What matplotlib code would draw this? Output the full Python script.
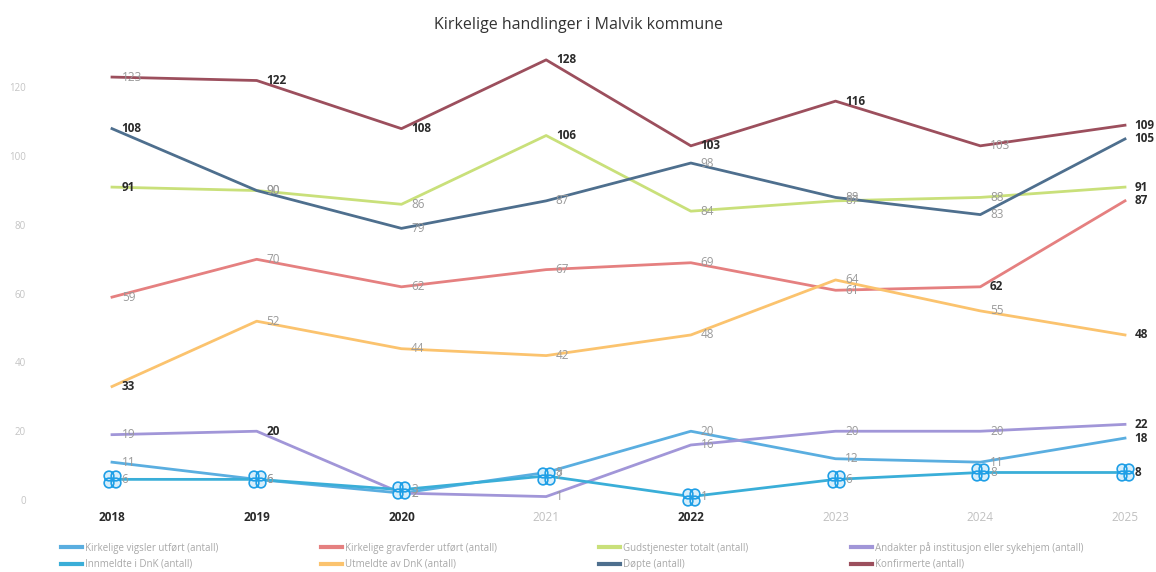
import matplotlib.pyplot as plt
from matplotlib.lines import Line2D
from matplotlib.path import Path

plt.rcParams['font.family'] = ['Open Sans', 'DejaVu Sans']

years = [2018, 2019, 2020, 2021, 2022, 2023, 2024, 2025]

vigsler = [11, 6, 2, 8, 20, 12, 11, 18]
gravferder = [59, 70, 62, 67, 69, 61, 62, 87]
gudstjenester = [91, 90, 86, 106, 84, 87, 88, 91]
andakter = [19, 20, 2, 1, 16, 20, 20, 22]
innmeldte = [6, 6, 3, 7, 1, 6, 8, 8]
utmeldte = [33, 52, 44, 42, 48, 64, 55, 48]
dopte = [108, 90, 79, 87, 98, 88, 83, 105]
konfirmerte = [123, 122, 108, 128, 103, 116, 103, 109]

series_names = [
    'Kirkelige vigsler utført (antall)',
    'Kirkelige gravferder utført (antall)',
    'Gudstjenester totalt (antall)',
    'Andakter på institusjon eller sykehjem (antall)',
    'Innmeldte i DnK (antall)',
    'Utmeldte av DnK (antall)',
    'Døpte (antall)',
    'Konfirmerte (antall)',
]
series_values = [vigsler, gravferder, gudstjenester, andakter,
                 innmeldte, utmeldte, dopte, konfirmerte]
colors = ['#5aaee0', '#e58080', '#c9e07a', '#a196d8',
          '#3aaed8', '#fbc36e', '#4e6f8e', '#9c4f5d']

# labels that look dark/bold in the scan: (series index, year)
bold_labels = {(7, 2019), (7, 2020), (7, 2021), (7, 2022), (7, 2023), (7, 2025),
               (6, 2018), (6, 2025), (2, 2018), (2, 2021), (2, 2025),
               (1, 2024), (1, 2025), (5, 2018), (5, 2025), (3, 2019), (3, 2025),
               (0, 2025), (4, 2025)}

# four small overlapping rings, like the marker in the scanned chart
unit = Path.unit_circle()
rings = [Path(unit.vertices * 0.55 + [dx, dy], unit.codes)
         for dx in (-0.4, 0.4) for dy in (-0.4, 0.4)]
clover = Path.make_compound_path(*rings)

fig = plt.figure(figsize=(11.56, 5.72), dpi=100)
ax = fig.add_axes([112 / 1156, 72 / 572, 1013 / 1156, 447 / 572])

for i, (name, vals, c) in enumerate(zip(series_names, series_values, colors)):
    if i == 4:
        ax.plot(years, vals, color=c, lw=2, marker=clover, markersize=12,
                markeredgewidth=1.2, markeredgecolor='#1f9fe6', markerfacecolor='#d6eefb',
                label=name, clip_on=False, zorder=3)
    else:
        ax.plot(years, vals, color=c, lw=2, label=name, clip_on=False)
    for x, v in zip(years, vals):
        bold = (i, x) in bold_labels
        ax.annotate(str(v), (x, v), xytext=(7, 0), textcoords='offset points',
                    ha='left', va='center', fontsize=8.5,
                    color='#2a2a2a' if bold else '#9a9a9a',
                    fontweight='bold' if bold else 'normal')

ax.set_xlim(2018, 2025)
ax.set_ylim(0, 130)
ax.set_yticks([0, 20, 40, 60, 80, 100, 120])
ax.set_xticks(years)
ax.tick_params(axis='y', length=0, pad=62, labelsize=7, labelcolor='#c4c4c4')
ax.tick_params(axis='x', length=0, pad=8, labelsize=8.5)
dark_years = [2018, 2019, 2020, 2022]
for lbl, yr in zip(ax.get_xticklabels(), years):
    if yr in dark_years:
        lbl.set_color('#2a2a2a')
        lbl.set_fontweight('bold')
    else:
        lbl.set_color('#c0c0c0')
for s in ax.spines.values():
    s.set_visible(False)

fig.text(0.5, 1 - 25 / 572, 'Kirkelige handlinger i Malvik kommune',
         ha='center', va='center', fontsize=11.5, color='#333333')

handles = [Line2D([0], [0], color=c, lw=3) for c in colors]
order = [0, 4, 1, 5, 2, 6, 3, 7]
leg = fig.legend([handles[k] for k in order], [series_names[k] for k in order],
                 ncol=4, loc='upper left', bbox_to_anchor=(52 / 1156, 1 - 533 / 572),
                 frameon=False, fontsize=7, handlelength=2.2, handletextpad=0.3,
                 columnspacing=10.5, labelspacing=0.55)
for t in leg.get_texts():
    t.set_color('#a8a8a8')

fig.savefig('out.png', dpi=100)
